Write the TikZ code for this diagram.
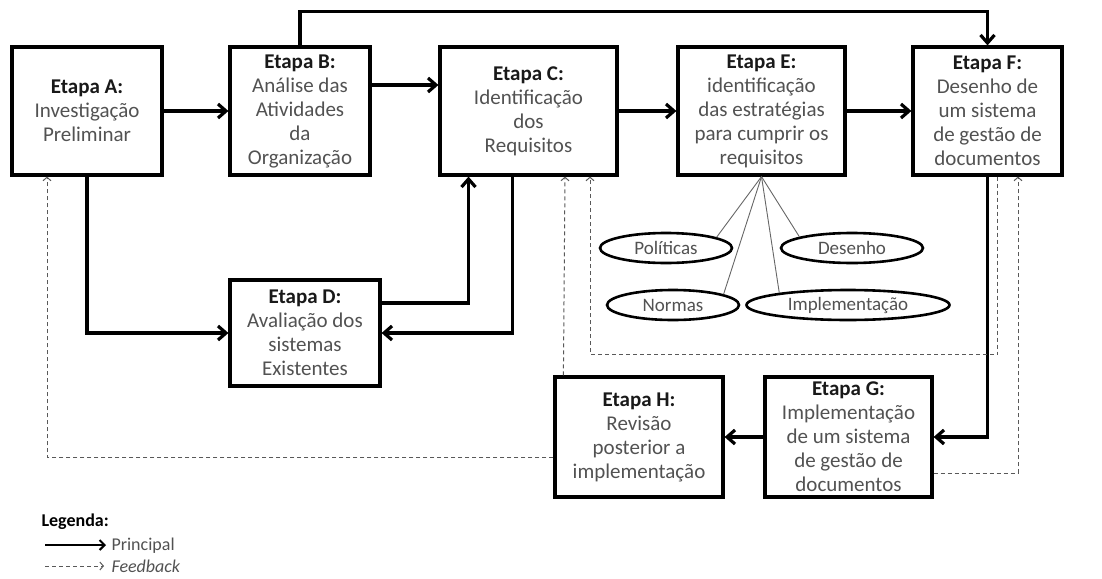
\documentclass[tikz,border=0pt]{standalone}
\usepackage{fontspec}
\setmainfont{Carlito}
\usetikzlibrary{arrows.meta, calc, shapes.geometric}
\newcommand{\etapa}[1]{\textcolor{black!90}{\textbf{Etapa #1:}}}

\begin{document}
\begin{tikzpicture}[
    x=1pt, y=-1pt,
    >={Straight Barb[length=8pt, width=14pt]},
    stage/.style={rectangle, draw=black, line width=3.2pt, fill=white, inner sep=1pt, align=center, text=black!68, font=\fontsize{21}{24}\selectfont},
    item/.style={ellipse, draw=black, line width=2.6pt, fill=white, inner sep=0pt, minimum height=30pt, text=black!68, font=\fontsize{19}{22}\selectfont},
    main/.style={->, line width=3.2pt},
    fb/.style={-{Straight Barb[length=3.5pt, width=8pt]}, dash pattern=on 4pt off 3pt, line width=1pt, draw=black!65},
    twig/.style={line width=0.9pt, draw=black!60},
    legtext/.style={anchor=west, text=black!68, font=\fontsize{18}{20}\selectfont}
  ]
    \useasboundingbox (0,0) rectangle (1102,578);

    % etapas
    \node[stage, minimum width=150pt, minimum height=128pt] (A) at (87,111) {\etapa{A}\\Investigação\\Preliminar};
    \node[stage, minimum width=140pt, minimum height=128pt] (B) at (300,111) {\etapa{B}\\Análise das\\Atividades\\da\\Organização};
    \node[stage, minimum width=177pt, minimum height=128pt] (C) at (528.5,111) {\etapa{C}\\Identificação\\dos\\Requisitos};
    \node[stage, minimum width=167pt, minimum height=128pt] (E) at (761.5,111) {\etapa{E}\\identificação\\das estratégias\\para cumprir os\\requisitos};
    \node[stage, minimum width=149pt, minimum height=128pt] (F) at (987.5,111) {\etapa{F}\\Desenho de\\um sistema\\de gestão de\\documentos};
    \node[stage, minimum width=150pt, minimum height=106pt] (D) at (305,333) {\etapa{D}\\Avaliação dos\\sistemas\\Existentes};
    \node[stage, minimum width=168pt, minimum height=120pt] (H) at (639,437) {\etapa{H}\\Revisão\\posterior a\\implementação};
    \node[stage, minimum width=167pt, minimum height=120pt] (G) at (848.5,437) {\etapa{G}\\Implementação\\de um sistema\\de gestão de\\documentos};

    % estrategias
    \node[item, minimum width=132pt] (pol) at (666,248) {Políticas};
    \node[item, minimum width=142pt] (des) at (852,248) {Desenho};
    \node[item, minimum width=132pt] (nor) at (673,305) {Normas};
    \node[item, minimum width=203pt] (imp) at (848,305) {Implementação};
    \draw[twig] (E.south) -- (pol.12);
    \draw[twig] (E.south) -- (nor.12);
    \draw[twig] (E.south) -- (imp.170);
    \draw[twig] (E.south) -- (des.168);

    % fluxo principal
    \draw[main] (A) -- (B);
    \draw[main] ($(B.east)+(0,-26)$) -- ($(C.west)+(0,-26)$);
    \draw[main] (C) -- (E);
    \draw[main] (E) -- (F);
    \draw[main] (B.north) -- ++(0,-34) -| (F.north);
    \draw[main] (A.south) |- (D.west);
    \draw[main] ($(D.east)+(0,-30)$) -| ($(C.south)+(-60,0)$);
    \draw[main] ($(C.south)+(-16,0)$) |- (D.east);
    \draw[main] (F.south) |- (G.east);
    \draw[main] (G) -- (H);

    % feedback
    \draw[fb] ($(H.west)+(0,20)$) -| ($(A.south)+(-40,0)$);
    \draw[fb] ($(H.north west)+(10,0)$) -- ($(C.south)+(36.5,0)$);
    \draw[fb] ($(F.south)+(10,0)$) -- ++(0,178) -| ($(C.south)+(61.5,0)$);
    \draw[fb] ($(G.east)+(0,36)$) -| ($(F.south)+(30.5,0)$);

    % legenda
    \node[anchor=west, font=\fontsize{18}{20}\selectfont\bfseries] (leg) at (38,522) {Legenda:};
    \coordinate (p1) at (45,545);
    \coordinate (p2) at (106,545);
    \coordinate (f1) at (45,566);
    \coordinate (f2) at (104,566);
    \draw[line width=2pt, -{Straight Barb[length=5pt, width=10pt]}] (p1) -- (p2);
    \draw[fb] (f1) -- (f2);
    \node[legtext] (prin) at (108,546) {Principal};
    \node[legtext, font=\fontsize{18}{20}\selectfont\itshape] (feed) at (108,566) {Feedback};
  \end{tikzpicture}
\end{document}
